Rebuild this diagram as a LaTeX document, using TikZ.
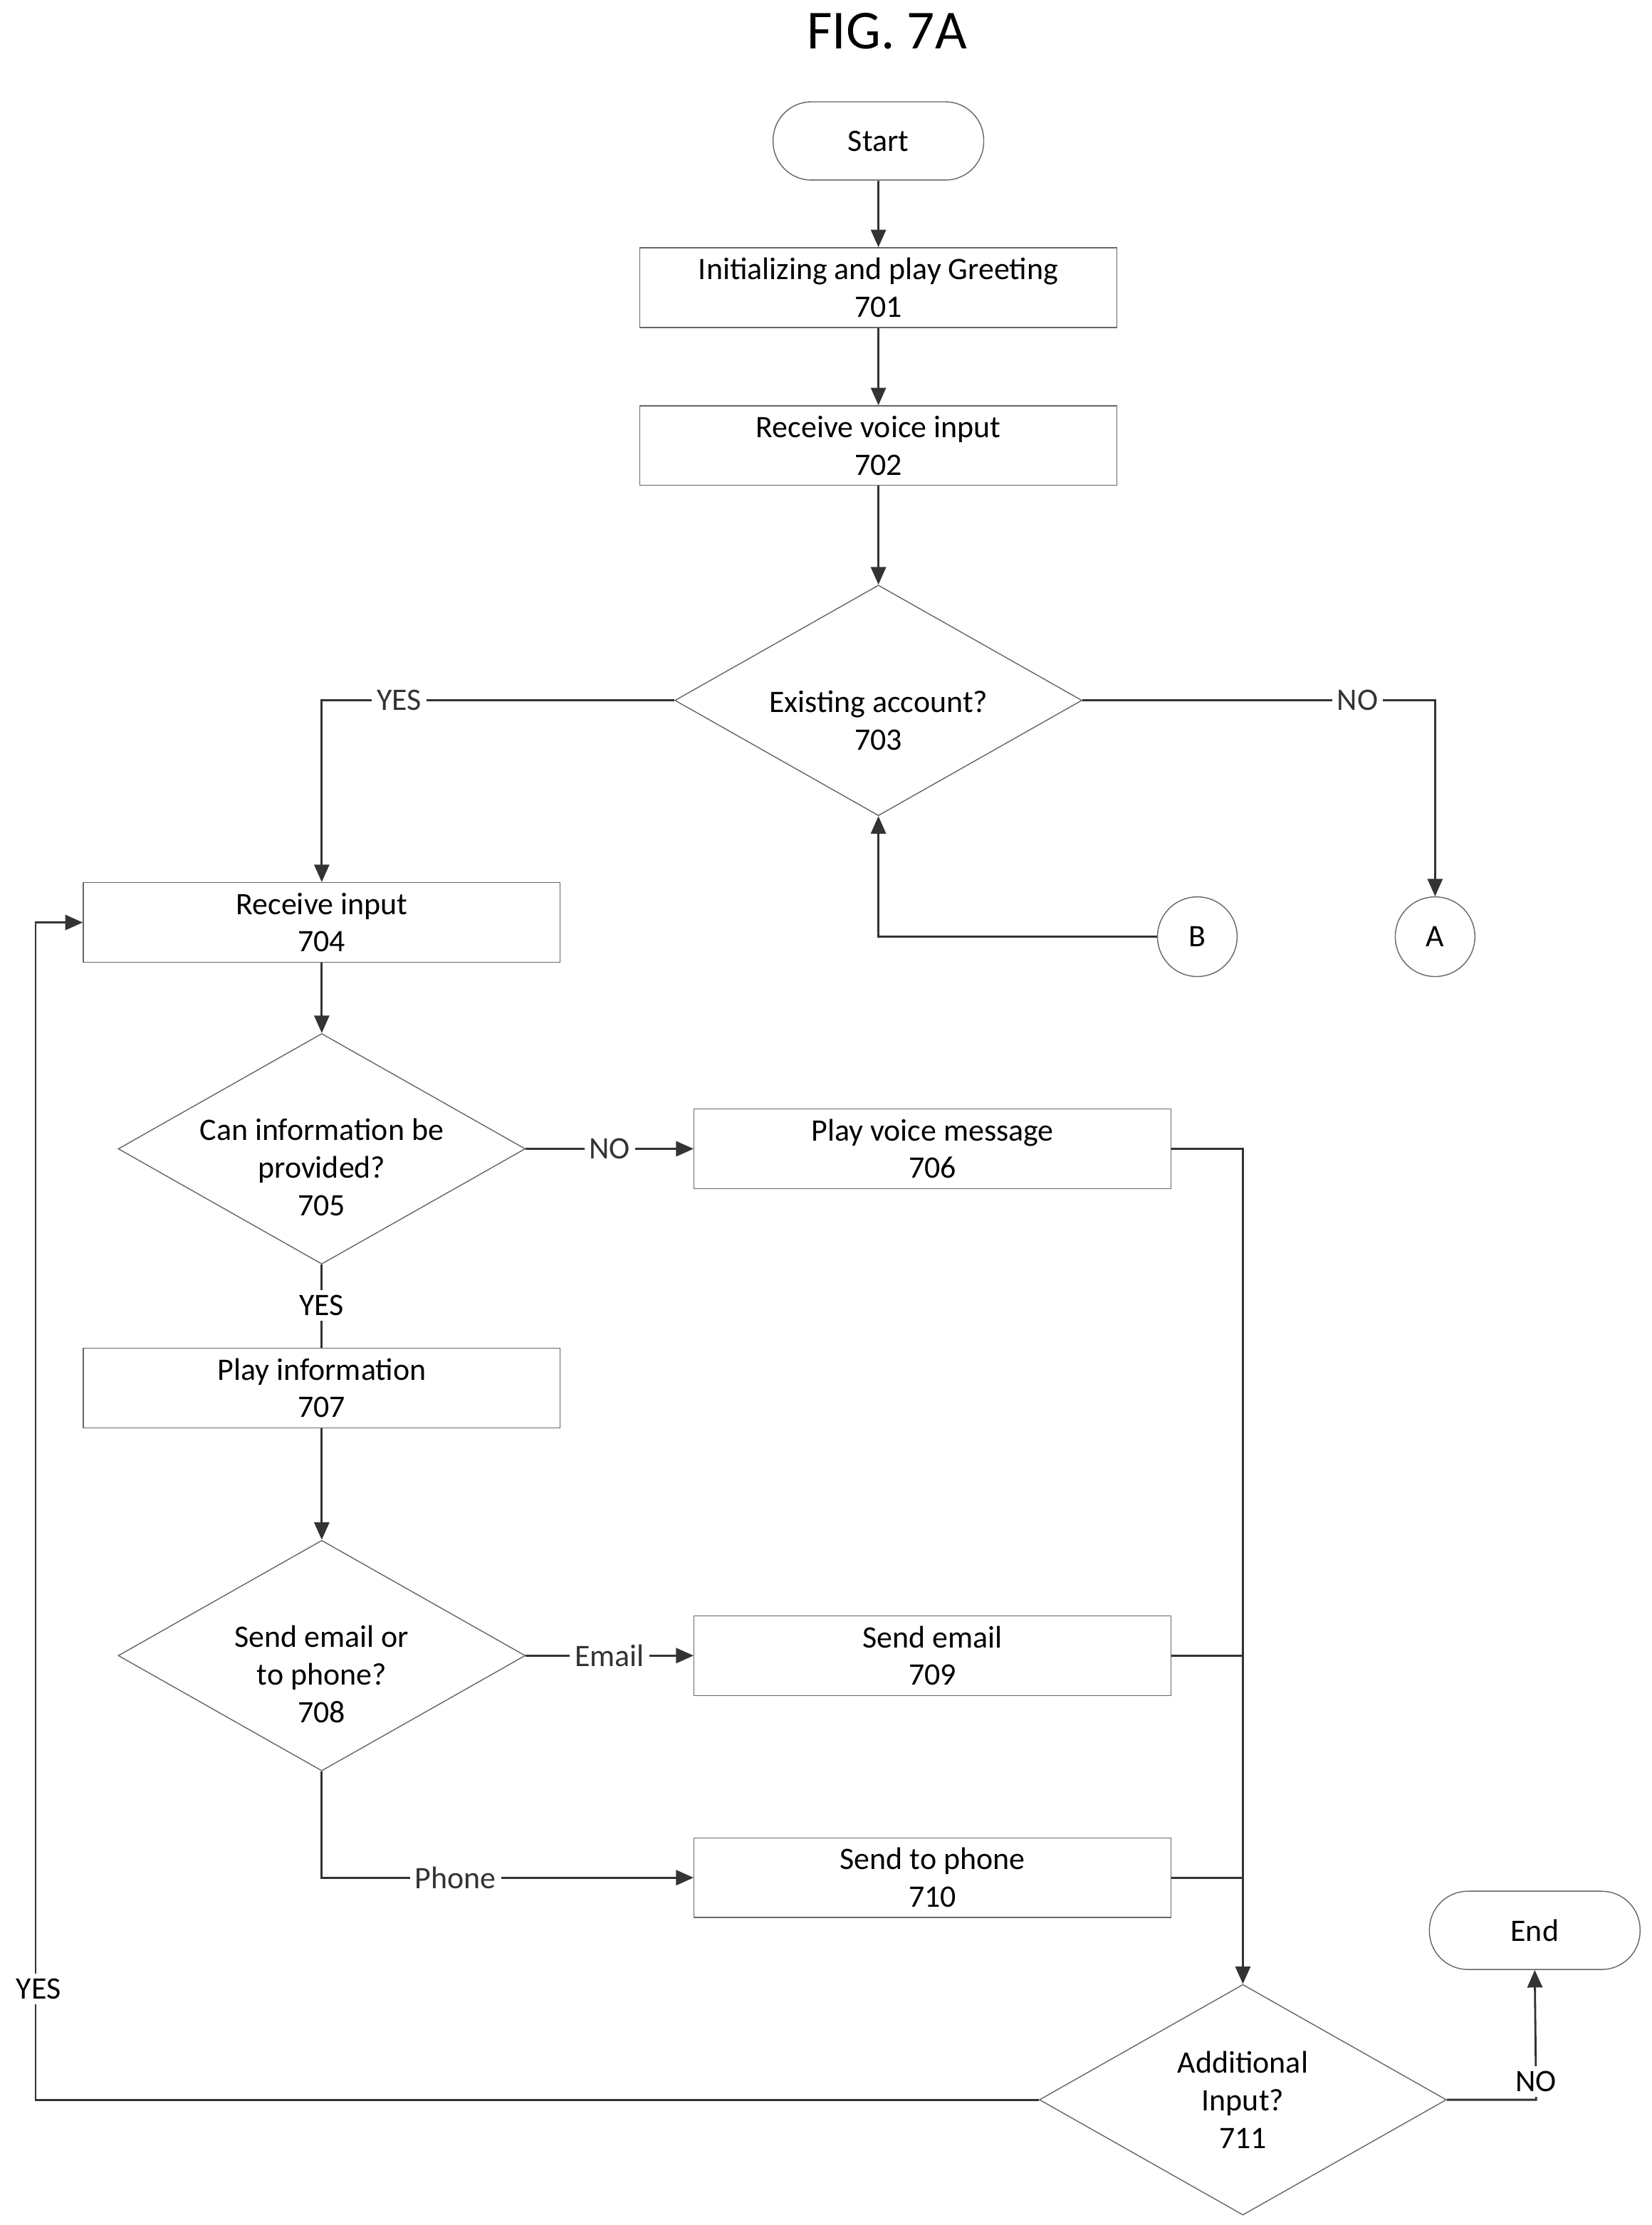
\documentclass[tikz,border=0pt]{standalone}
\usepackage{fontspec}
\setmainfont{Carlito}
\usetikzlibrary{arrows.meta,shapes.geometric}
\tikzset{
  box/.style={draw=black!60,minimum width=6.7cm,minimum height=1.12cm,inner sep=0pt,align=center,font=\fontsize{12.5}{15}\selectfont},
  term/.style={draw=black!60,minimum width=2.96cm,minimum height=1.1cm,rounded corners=0.54cm,font=\fontsize{12.5}{15}\selectfont},
  dec/.style={draw=black!60,diamond,minimum width=5.72cm,minimum height=3.24cm,inner sep=0pt},
  dtext/.style={align=center,font=\fontsize{12.5}{15}\selectfont},
  conn/.style={draw=black!60,circle,minimum size=1.12cm,inner sep=0pt,font=\fontsize{12.5}{15}\selectfont},
  flow/.style={black!80,line width=0.8pt},
  arr/.style={flow,-{Triangle[length=7pt,width=6pt]}},
  lbl/.style={fill=white,inner sep=2pt,font=\fontsize{12.5}{15}\selectfont}
}
\begin{document}
\begin{tikzpicture}[x=0.02cm,y=-0.02cm]
\useasboundingbox (0,0) rectangle (1160,1563);
\node[font=\fontsize{22}{26}\selectfont] (title) at (623,22) {FIG. 7A};
% terminals and boxes
\node[term] (start) at (617,99) {Start};
\node[box] (b701) at (617,202) {Initializing and play Greeting\\701};
\node[box] (b702) at (617,313) {Receive voice input\\702};
\node[dec] (d703) at (617,492) {};
\node[dtext] at (617,506) {Existing account?\\703};
\node[conn] (cB) at (841,658) {B};
\node[conn] (cA) at (1008,658) {A};
\node[box] (b704) at (226,648) {Receive input\\704};
\node[dec] (d705) at (226,807) {};
\node[dtext] at (226,820) {Can information be\\provided?\\705};
\node[box] (b706) at (655,807) {Play voice message\\706};
\node[box] (b707) at (226,975) {Play information\\707};
\node[dec] (d708) at (226,1163) {};
\node[dtext] at (226,1176) {Send email or\\to phone?\\708};
\node[box] (b709) at (655,1163) {Send email\\709};
\node[box] (b710) at (655,1319) {Send to phone\\710};
\node[dec] (d711) at (873,1475) {};
\node[dtext] at (873,1475) {Additional\\Input?\\711};
\node[term] (end) at (1078,1356) {End};
\coordinate (j) at (873,807);
% connectors
\draw[arr] (start) -- (b701);
\draw[arr] (b701) -- (b702);
\draw[arr] (b702) -- (d703);
\draw[arr] (d703.west) -- (226,492) node[lbl,pos=0.78] {YES} -- (b704);
\draw[arr] (d703.east) -- (1008,492) node[lbl,pos=0.78] {NO} -- (cA);
\draw[arr] (cB) -- (617,658) -- (d703.south);
\draw[arr] (b704) -- (d705);
\draw[arr] (d705.east) -- node[lbl] {NO} (b706);
\draw[flow] (d705.south) -- (b707);
\draw[arr] (b707) -- (d708);
\draw[arr] (d708.east) -- node[lbl] {Email} (b709);
\draw[arr] (d708.south) -- (226,1319) -- node[lbl,pos=0.36] {Phone} (b710);
\draw[arr] (b706.east) -- (j) -- (d711.north);
\draw[flow] (b709.east) -- (873,1163);
\draw[flow] (b710.east) -- (873,1319);
\draw[arr] (d711.west) -- (25,1475) -- (25,648) -- (b704.west);
\draw[arr] (d711.east) -- (1079,1475) -- (end.south);
% labels on top of lines
\node[lbl] (yes705) at (226,917) {YES};
\node[lbl] (yes) at (27,1397) {YES};
\node[lbl] (no) at (1079,1462) {NO};
\end{tikzpicture}
\end{document}
